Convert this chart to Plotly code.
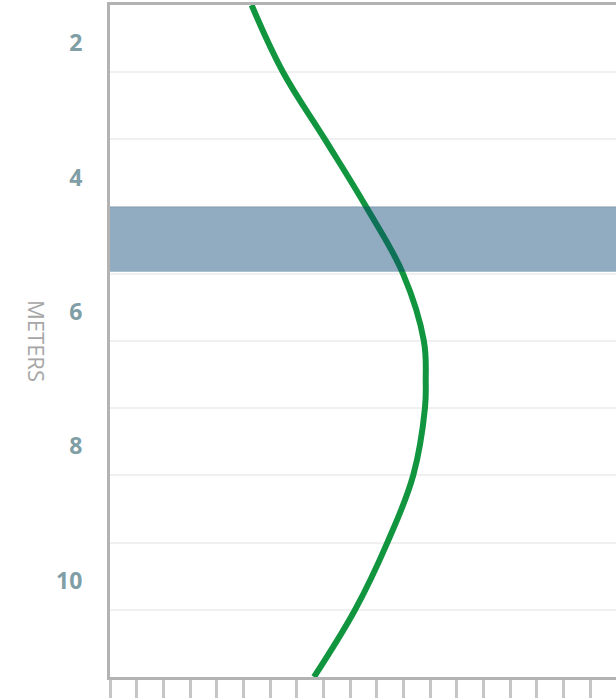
import plotly.graph_objects as go

# depth (meters) and profile values
depth_m = [1, 2, 3, 4, 5, 6, 6.6, 7, 8, 9, 10, 11]
profile = [5.31, 6.49, 8.06, 9.60, 10.99, 11.77, 11.84, 11.81, 11.37, 10.40, 9.19, 7.65]

band_top_m = 4.0
band_bottom_m = 4.97

label_depths = [2, 4, 6, 8, 10]
label_text = ["2", "4", "6", "8", "10"]

x_range = [0, 18.975]
y_range = [11, 1]

fig = go.Figure()
fig.add_trace(go.Scatter(
    x=profile, y=depth_m, mode="lines",
    line=dict(color="#11963f", width=6, shape="spline", smoothing=1.1),
    hoverinfo="skip", showlegend=False, cliponaxis=True,
))

# highlighted depth band (above the line, semi transparent)
fig.add_shape(type="rect", xref="paper", yref="y", x0=0, x1=1,
              y0=band_top_m, y1=band_bottom_m, layer="above",
              fillcolor="rgba(10,72,118,0.45)", line=dict(width=0))

# soft shadow left of the y-axis line
for off, col in [(-3, "#d6d6d6"), (-5, "#e6e6e6"), (-7, "#f1f1f1"), (-9, "#f8f8f8")]:
    fig.add_shape(type="line", xref="x", xsizemode="pixel", xanchor=0,
                  x0=off, x1=off, yref="paper", y0=0, y1=1,
                  line=dict(color=col, width=2), layer="below")

fig.update_layout(
    width=616, height=698,
    margin=dict(l=110, r=0, t=5, b=21),
    paper_bgcolor="white", plot_bgcolor="white",
    font=dict(family="Open Sans", color="#7f9ea5"),
    xaxis=dict(
        range=x_range, showgrid=False, zeroline=False,
        showline=True, linecolor="#b3b3b3", linewidth=3, mirror=True,
        ticks="outside", ticklen=21, tickwidth=2.5, tickcolor="#c6c6c6",
        tick0=0, dtick=1, showticklabels=False,
    ),
    yaxis=dict(
        range=y_range, zeroline=False,
        showline=True, linecolor="#b3b3b3", linewidth=3,
        tickmode="array", tickvals=label_depths, ticktext=label_text,
        ticks="", ticklabelshift=29, ticklabelstandoff=20,
        tickfont=dict(family="Open Sans", size=23, color="#7f9ea5", weight="bold"),
        showgrid=True, gridcolor="#f0f0f0", gridwidth=2,
        minor=dict(tick0=1, dtick=1, showgrid=True, gridcolor="#f0f0f0", gridwidth=2),
    ),
    annotations=[dict(
        text="METERS", xref="paper", yref="paper", x=-(110 - 37) / 506, y=1 - (341 - 5) / 672,
        xanchor="center", yanchor="middle", showarrow=False, textangle=90,
        font=dict(family="Open Sans", size=22, color="#a6a6a6"),
    )],
)

fig.write_html("out.html", config={"displayModeBar": False},
               post_script="document.body.style.margin='0';document.body.style.overflow='hidden';")
